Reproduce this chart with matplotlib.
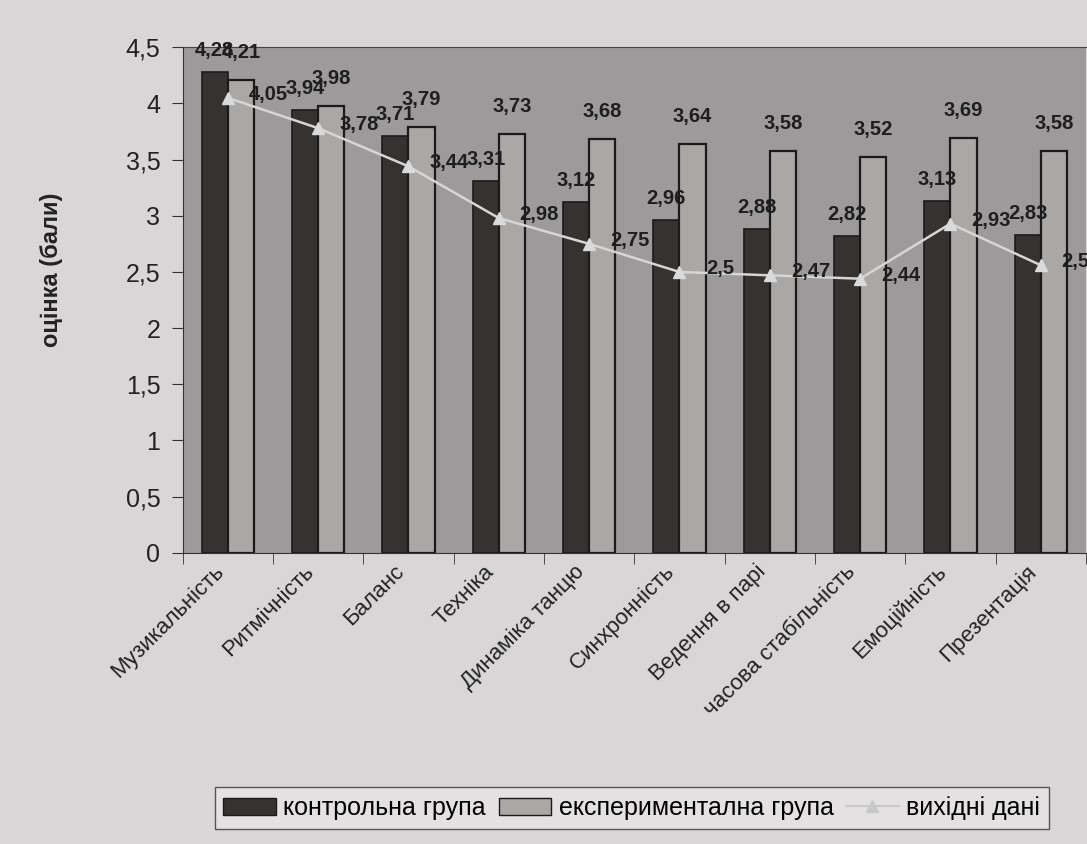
import matplotlib.pyplot as plt
import matplotlib.transforms as mtransforms
import numpy as np
from matplotlib.patches import Patch
from matplotlib.lines import Line2D

plt.rcParams['font.family'] = ['Liberation Sans', 'DejaVu Sans']

categories = ['Музикальність', 'Ритмічність', 'Баланс', 'Техніка', 'Динаміка танцю',
              'Синхронність', 'Ведення в парі', 'часова стабільність', 'Емоційність',
              'Презентація']
control = [4.28, 3.94, 3.71, 3.31, 3.12, 2.96, 2.88, 2.82, 3.13, 2.83]
experimental = [4.21, 3.98, 3.79, 3.73, 3.68, 3.64, 3.58, 3.52, 3.69, 3.58]
baseline = [4.05, 3.78, 3.44, 2.98, 2.75, 2.5, 2.47, 2.44, 2.93, 2.56]
yticks = [0, 0.5, 1, 1.5, 2, 2.5, 3, 3.5, 4, 4.5]


def fmt(v):
    s = ('%.2f' % v).rstrip('0').rstrip('.')
    return s.replace('.', ',')


fig = plt.figure(figsize=(10.87, 8.44), dpi=100, facecolor='#d8d6d6')
ax = fig.add_axes([0.168, 0.345, 0.831, 0.599])
ax.set_facecolor('#9c9a9a')

x = np.arange(len(categories))
w = 0.29
ax.bar(x - w / 2, control, w, color='#353232', edgecolor='#1a1a1a', linewidth=1.2,
       zorder=2)
ax.bar(x + w / 2, experimental, w, color='#aaa7a7', edgecolor='#1a1a1a', linewidth=1.6,
       zorder=2)
ax.plot(x, baseline, color='#d6d6d6', marker='^', markersize=8, linewidth=1.8,
        markerfacecolor='#dadada', markeredgecolor='#dadada', zorder=3)

for i in range(len(categories)):
    ax.text(x[i] - w / 2, control[i] + 0.11, fmt(control[i]), ha='center', va='bottom',
            fontsize=14.5, fontweight='bold', color='#1e1e1e', zorder=4)
    ax.text(x[i] + w / 2, experimental[i] + 0.16, fmt(experimental[i]), ha='center',
            va='bottom', fontsize=14.5, fontweight='bold', color='#1e1e1e', zorder=4)
    ax.text(x[i] + 0.45, baseline[i] + 0.03, fmt(baseline[i]), ha='center', va='center',
            fontsize=14.5, fontweight='bold', color='#1e1e1e', zorder=4)

ax.set_xlim(-0.5, len(categories) - 0.5)
ax.set_ylim(0, 4.5)
ax.set_yticks(yticks)
ax.set_yticklabels([fmt(t) for t in yticks], fontsize=18, color='#222222')
ax.set_xticks(x)
ax.set_xticklabels(categories, rotation=45, ha='right', fontsize=16, color='#222222')
shift = mtransforms.ScaledTranslation(-10 / 100, 0, fig.dpi_scale_trans)
for lab in ax.get_xticklabels():
    lab.set_transform(lab.get_transform() + shift)
ax.tick_params(axis='x', length=0, pad=6)
ax.set_xticks(np.arange(len(categories) + 1) - 0.5, minor=True)
ax.tick_params(axis='x', which='minor', length=8, direction='out', color='#333333')
ax.tick_params(axis='y', length=8, direction='out', color='#333333', pad=8)
ax.set_ylabel('оцінка (бали)', fontsize=17, fontweight='bold', color='#222222')
ax.yaxis.set_label_coords(-0.132, 0.56)

ax.spines['right'].set_visible(False)
ax.spines['top'].set_color('#444444')
ax.spines['left'].set_color('#333333')
ax.spines['bottom'].set_color('#333333')

handles = [Patch(facecolor='#353232', edgecolor='#1a1a1a', label='контрольна група'),
           Patch(facecolor='#aaa7a7', edgecolor='#1a1a1a', label='експериментална група'),
           Line2D([0], [0], color='#c8c8c8', marker='^', markersize=8,
                  label='вихідні дані')]
fig.legend(handles=handles, loc='lower left', bbox_to_anchor=(0.186, 0.003),
           ncol=3, fontsize=18, frameon=True, facecolor='#e6e4e4',
           edgecolor='#333333', fancybox=False, handlelength=2.1, handleheight=0.7,
           columnspacing=0.5, handletextpad=0.3, borderpad=0.35)

fig.savefig('out.png', dpi=100, facecolor=fig.get_facecolor())
